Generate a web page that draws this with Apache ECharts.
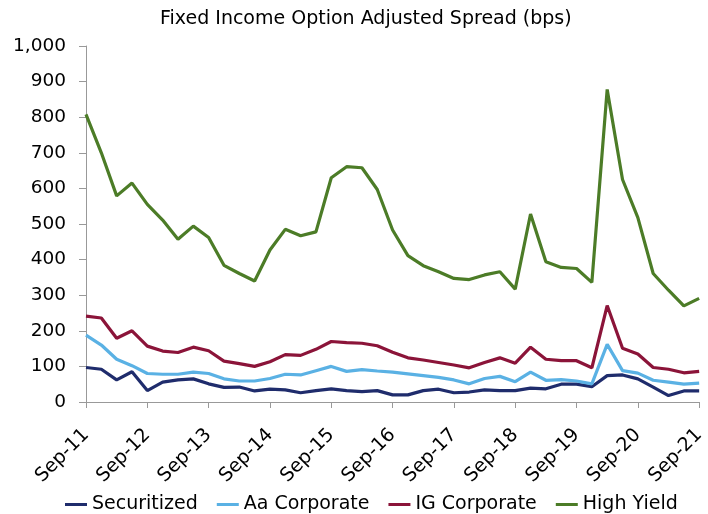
<!DOCTYPE html>
<html>
<head>
<meta charset="utf-8">
<script src="https://cdn.jsdelivr.net/npm/echarts@6/dist/echarts.min.js"></script>
<style>html,body{margin:0;padding:0;background:#fff}#c{width:708px;height:514px}</style>
</head>
<body>
<div id="c"></div>
<script>
// Quarterly labels Sep-11 .. Sep-21
const quarterLabels = ['Sep-11','Dec-11','Mar-12','Jun-12','Sep-12','Dec-12','Mar-13','Jun-13','Sep-13','Dec-13','Mar-14','Jun-14','Sep-14','Dec-14','Mar-15','Jun-15','Sep-15','Dec-15','Mar-16','Jun-16','Sep-16','Dec-16','Mar-17','Jun-17','Sep-17','Dec-17','Mar-18','Jun-18','Sep-18','Dec-18','Mar-19','Jun-19','Sep-19','Dec-19','Mar-20','Jun-20','Sep-20','Dec-20','Mar-21','Jun-21','Sep-21'];
const yTicks = [0,100,200,300,400,500,600,700,800,900,1000];

const securitized = [97,92,62,85,32,56,62,65,51,41,42,31,36,34,26,32,37,32,29,32,20,20,32,36,26,28,34,32,32,39,37,50,50,43,74,76,65,42,18,31,31];
const aaCorporate = [188,160,120,102,80,78,78,84,80,65,59,59,66,78,76,88,100,86,91,87,84,79,74,69,62,51,66,72,57,84,61,63,59,51,162,88,81,61,56,50,53];
const igCorporate = [241,236,179,200,157,143,139,154,144,115,108,100,113,133,131,148,170,167,165,158,140,124,118,111,104,96,111,124,109,154,120,116,116,96,271,151,135,97,92,82,86];
const highYield = [808,700,579,615,555,511,457,494,462,384,361,340,427,485,467,478,630,661,658,597,483,411,383,366,347,344,357,366,317,528,394,378,375,336,878,625,518,361,314,270,291];

const font = 'DejaVu Sans';
const chart = echarts.init(document.getElementById('c'), null, {renderer:'canvas'});
const mk = (name, data, color) => ({
  name, type:'line', data, showSymbol:false, symbol:'none', smooth:false,
  lineStyle:{width:3.2, color}, itemStyle:{color}, animation:false
});
chart.setOption({
  animation:false,
  title:{text:'Fixed Income Option Adjusted Spread (bps)', left:155, top:5,
    textStyle:{fontFamily:font, fontSize:19, fontWeight:'normal', color:'#000'}},
  grid:{left:86, right:6, top:46, bottom:112, containLabel:false},
  legend:{top:490, left:60, itemWidth:22, itemHeight:3, itemGap:19, icon:'rect',
    textStyle:{fontFamily:font, fontSize:19, color:'#000'}},
  xAxis:{type:'category', data:quarterLabels, boundaryGap:false,
    axisLine:{lineStyle:{color:'#999', width:1}},
    axisTick:{show:true, interval:3, length:6, lineStyle:{color:'#999'}},
    axisLabel:{interval:3, rotate:45, fontFamily:font, fontSize:19, color:'#000', margin:30},
    splitLine:{show:false}},
  yAxis:{type:'value', min:yTicks[0], max:yTicks[yTicks.length-1], interval:100,
    axisLine:{show:true, lineStyle:{color:'#999', width:1}},
    axisTick:{show:true, length:7, lineStyle:{color:'#999'}},
    axisLabel:{fontFamily:font, fontSize:18.5, color:'#000', margin:20,
      formatter:v => v.toLocaleString('en-US')},
    splitLine:{show:false}},
  series:[
    mk('Securitized', securitized, '#1F2C6C'),
    mk('Aa Corporate', aaCorporate, '#5AB1E4'),
    mk('IG Corporate', igCorporate, '#8B1439'),
    mk('High Yield', highYield, '#4C7C27')
  ]
});
</script>
</body>
</html>
